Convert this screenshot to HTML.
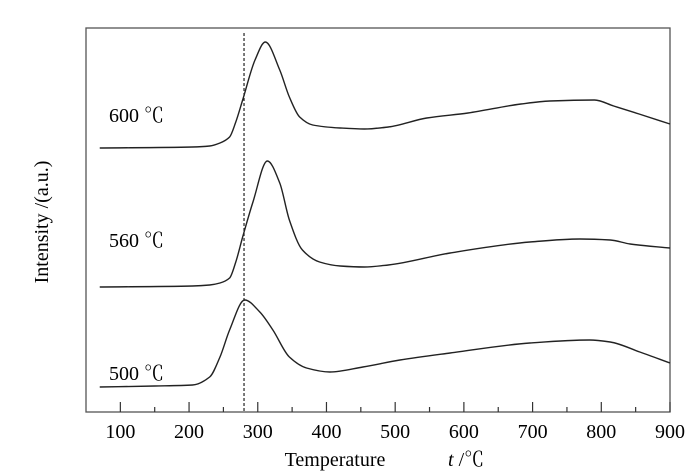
<!DOCTYPE html>
<html><head><meta charset="utf-8">
<style>
html,body{margin:0;padding:0;background:#fff;}
svg{display:block;font-family:"Liberation Serif","Noto Serif CJK SC",serif;}
</style></head>
<body>
<svg id="chart" width="700" height="472" viewBox="0 0 700 472" xmlns="http://www.w3.org/2000/svg">
<rect x="86" y="28" width="584" height="384" fill="none" stroke="#555" stroke-width="1.3"/>
<g id="ticks"></g>
<g id="series"></g>
<text transform="translate(48,222) rotate(-90)" text-anchor="middle" font-size="20">Intensity /(a.u.)</text>
<text x="335" y="466" text-anchor="middle" font-size="20">Temperature</text>
<text x="448" y="466" font-size="20"><tspan font-style="italic">t</tspan> /℃</text>
</svg>
<script>
const xTicks = [100,200,300,400,500,600,700,800,900];
const xMinor = [150,250,350,450,550,650,750,850];
const seriesNames = ["600 ℃","560 ℃","500 ℃"];
const labelValues = [290, 165, 32];
const t600 = [70,205,230,245,259,268,278,296,311,332,346,361,380,420,455,490,546,606,683,725,790,818,855,900];
const v600 = [264,265,266,269,275,290,312,352,370,342,315,295,287,284,283,285,294,299,308,311,312,306,298,288];
const t560 = [70,205,230,245,259,268,278,293,314,332,346,365,390,420,455,490,580,696,769,813,842,900];
const v560 = [125,126,127,129,134,150,175,210,251,229,192,162,150,146,145,147,159,170,173,172,168,164];
const t500 = [70,150,205,230,245,259,281,303,322,346,371,405,453,507,580,696,783,813,856,900];
const v500 = [25,26,27,35,55,82,112,100,82,55,44,40,45,52,59,69,72,70,60,49];
const refLine = 280;

const NS="http://www.w3.org/2000/svg";
const xs = t => 86 + (t-50)*(584/850);
const ys = v => 412 - v;
const tg=document.getElementById('ticks');
xTicks.forEach(t=>{
  const l=document.createElementNS(NS,'line');
  
  
  l.setAttribute('x1',xs(t));l.setAttribute('x2',xs(t));l.setAttribute('y1',412);l.setAttribute('y2',402);
  l.setAttribute('stroke','#333');l.setAttribute('stroke-width','1.2');
  tg.appendChild(l);
  const tx=document.createElementNS(NS,'text');
  
  
  tx.setAttribute('x',xs(t));tx.setAttribute('y',438);tx.setAttribute('text-anchor','middle');tx.setAttribute('font-size','20');
  tx.textContent=t;tg.appendChild(tx);
});
xMinor.forEach(t=>{
  const l=document.createElementNS(NS,'line');
  
  
  l.setAttribute('x1',xs(t));l.setAttribute('x2',xs(t));l.setAttribute('y1',412);l.setAttribute('y2',407);
  l.setAttribute('stroke','#333');l.setAttribute('stroke-width','1.2');
  tg.appendChild(l);
});
const sg=document.getElementById('series');
const rl=document.createElementNS(NS,'line');


rl.setAttribute('x1',xs(refLine));rl.setAttribute('x2',xs(refLine));rl.setAttribute('y1',33);rl.setAttribute('y2',412);
rl.setAttribute('stroke','#222');rl.setAttribute('stroke-width','1.2');rl.setAttribute('stroke-dasharray','3,2');
sg.appendChild(rl);
function path(T,V){
  const X=T.map(xs), Y=V.map(ys), n=X.length;
  const d=[], m=new Array(n);
  for(let i=0;i<n-1;i++) d.push((Y[i+1]-Y[i])/(X[i+1]-X[i]));
  m[0]=d[0]; m[n-1]=d[n-2];
  for(let i=1;i<n-1;i++){
    if(d[i-1]*d[i]<=0) m[i]=0;
    else { const h0=X[i]-X[i-1], h1=X[i+1]-X[i];
      m[i]=3*(h0+h1)/((2*h1+h0)/d[i-1]+(h1+2*h0)/d[i]); }
  }
  let s='M'+X[0]+','+Y[0];
  for(let i=0;i<n-1;i++){
    const h=(X[i+1]-X[i])/3;
    s+=` C${X[i]+h},${Y[i]+m[i]*h} ${X[i+1]-h},${Y[i+1]-m[i+1]*h} ${X[i+1]},${Y[i+1]}`;
  }
  return s;
}
[[t600,v600,'curve-600c'],[t560,v560,'curve-560c'],[t500,v500,'curve-500c']].forEach((s,i)=>{
  const p=document.createElementNS(NS,'path');
  
  
  p.setAttribute('d',path(s[0],s[1]));
  p.setAttribute('fill','none');p.setAttribute('stroke','#222');p.setAttribute('stroke-width','1.4');
  sg.appendChild(p);
  const tx=document.createElementNS(NS,'text');
  
  
  tx.setAttribute('x',109);tx.setAttribute('y',ys(labelValues[i]));tx.setAttribute('font-size','20');
  tx.textContent=seriesNames[i];sg.appendChild(tx);
});
</script>
</body></html>
